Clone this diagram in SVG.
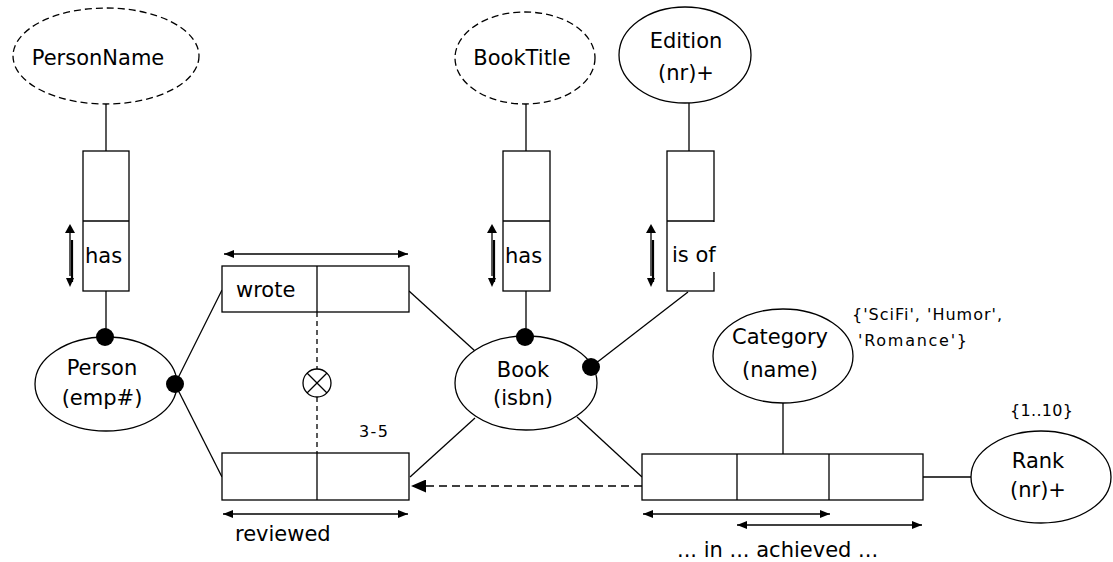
<svg xmlns="http://www.w3.org/2000/svg" width="1113" height="562" viewBox="0 0 1113 562">
<defs>
<style>
.n{fill:#fff;stroke:#000;stroke-width:1.3}
.dash{stroke-dasharray:7 4}
.l{fill:none;stroke:#000;stroke-width:1.3}
.dl{fill:none;stroke:#000;stroke-width:1.3;stroke-dasharray:5 4}
.da{fill:none;stroke:#000;stroke-width:1.3;stroke-dasharray:8 5}
.dot{fill:#000}
text{font-family:"DejaVu Sans","Liberation Sans",sans-serif;font-size:21px;fill:#000}
.m{text-anchor:middle}
.s{font-size:16px}
.w{fill:none;stroke:#000;stroke-width:1.5;marker-start:url(#ah);marker-end:url(#ah)}
</style>
<marker id="ah" viewBox="0 0 10 8" refX="10" refY="4" markerWidth="10" markerHeight="8" markerUnits="userSpaceOnUse" orient="auto-start-reverse">
<path d="M0,0 L10,4 L0,8 Z" fill="#000"/>
</marker>
<marker id="big" viewBox="0 0 15 13" refX="15" refY="6.5" markerWidth="15" markerHeight="13" markerUnits="userSpaceOnUse" orient="auto">
<path d="M0,0 L15,6.5 L0,13 Z" fill="#000"/>
</marker>
<g id="ubar">
<path d="M0,0 L-5,9 L5,9 Z" fill="#000"/>
<line x1="0" y1="8" x2="0" y2="52" stroke="#000" stroke-width="1.3"/>
<line x1="2" y1="16" x2="2" y2="58" stroke="#000" stroke-width="2.2"/>
<path d="M-4,54 L4,54 L0,63 Z" fill="#000"/>
</g>
</defs>
<rect width="1113" height="562" fill="#fff"/>

<g id="connectors">
<line class="l" x1="106" y1="104" x2="106" y2="151"/>
<line class="l" x1="106" y1="291" x2="106" y2="337"/>
<line class="l" x1="526" y1="104" x2="526" y2="151"/>
<line class="l" x1="526" y1="291" x2="526" y2="337"/>
<line class="l" x1="689" y1="103" x2="689" y2="151"/>
<line class="l" x1="688" y1="292" x2="591" y2="367"/>
<line class="l" x1="175" y1="384" x2="222" y2="290"/>
<line class="l" x1="175" y1="384" x2="222" y2="477"/>
<line class="l" x1="409" y1="291" x2="475" y2="351"/>
<line class="l" x1="475" y1="418" x2="410" y2="477"/>
<line class="l" x1="577" y1="417" x2="642" y2="477"/>
<line class="l" x1="783" y1="403" x2="783" y2="454"/>
<line class="l" x1="923" y1="477" x2="971" y2="477"/>
<line class="dl" x1="317" y1="312" x2="317" y2="369"/>
<line class="dl" x1="317" y1="397" x2="317" y2="453"/>
<line class="da" x1="642" y1="486" x2="411" y2="486" marker-end="url(#big)"/>
</g>

<g id="PersonName">
<ellipse class="n dash" cx="106" cy="56" rx="93" ry="48"/>
<text class="m" x="98" y="65">PersonName</text>
</g>
<g id="BookTitle">
<ellipse class="n dash" cx="525" cy="58" rx="70" ry="46"/>
<text class="m" x="522" y="65">BookTitle</text>
</g>
<g id="Edition">
<ellipse class="n" cx="685" cy="55" rx="66" ry="48"/>
<text class="m" x="686" y="48">Edition</text>
<text class="m" x="686" y="80">(nr)+</text>
</g>

<g id="fact-person-has">
<rect class="n" x="83" y="151" width="46" height="140"/>
<line class="l" x1="83" y1="221" x2="129" y2="221"/>
<text x="85" y="263">has</text>
<use href="#ubar" x="70" y="224"/>
</g>
<g id="fact-book-has">
<rect class="n" x="503" y="151" width="47" height="140"/>
<line class="l" x1="503" y1="221" x2="550" y2="221"/>
<text x="505" y="263">has</text>
<use href="#ubar" x="492" y="224"/>
</g>
<g id="fact-edition">
<rect class="n" x="667" y="151" width="47" height="140"/>
<line class="l" x1="667" y1="221" x2="714" y2="221"/>
<rect x="712" y="222" width="5" height="50" fill="#fff"/>
<text x="672" y="262">is of</text>
<use href="#ubar" x="651" y="224"/>
</g>

<g id="Person">
<ellipse class="n" cx="106" cy="384" rx="71" ry="47"/>
<text class="m" x="102" y="375">Person</text>
<text class="m" x="102" y="405">(emp#)</text>
</g>
<g id="Book">
<ellipse class="n" cx="526" cy="383" rx="71" ry="47"/>
<text class="m" x="523" y="377">Book</text>
<text class="m" x="523" y="405">(isbn)</text>
</g>
<g id="Category">
<ellipse class="n" cx="783" cy="356" rx="70" ry="47"/>
<text class="m" x="780" y="344">Category</text>
<text class="m" x="780" y="377">(name)</text>
<text class="s" x="852" y="320" textLength="150" lengthAdjust="spacing">{'SciFi', 'Humor',</text>
<text class="s" x="858" y="346" textLength="109" lengthAdjust="spacing">'Romance'}</text>
</g>
<g id="Rank">
<ellipse class="n" cx="1041" cy="477" rx="70" ry="46"/>
<text class="m" x="1038" y="468">Rank</text>
<text class="m" x="1038" y="497">(nr)+</text>
<text class="s" x="1010" y="416" textLength="63" lengthAdjust="spacing">{1..10}</text>
</g>

<g id="fact-wrote">
<rect class="n" x="222" y="266" width="187" height="46"/>
<line class="l" x1="317" y1="266" x2="317" y2="312"/>
<text x="236" y="297">wrote</text>
<line class="w" x1="224" y1="254" x2="408" y2="254"/>
</g>
<g id="fact-reviewed">
<rect class="n" x="222" y="453" width="187" height="47"/>
<line class="l" x1="317" y1="453" x2="317" y2="500"/>
<line class="w" x1="223" y1="514" x2="408" y2="514"/>
<text x="235" y="541">reviewed</text>
<text class="s" x="359" y="437" textLength="29" lengthAdjust="spacing">3-5</text>
</g>
<g id="exclusion">
<circle class="n" cx="317" cy="383" r="14"/>
<line class="l" x1="307" y1="373" x2="327" y2="393"/>
<line class="l" x1="327" y1="373" x2="307" y2="393"/>
</g>
<g id="fact-achieved">
<rect class="n" x="642" y="454" width="281" height="46"/>
<line class="l" x1="737" y1="454" x2="737" y2="500"/>
<line class="l" x1="829" y1="454" x2="829" y2="500"/>
<line class="w" x1="643" y1="514" x2="830" y2="514"/>
<line class="w" x1="737" y1="525" x2="922" y2="525"/>
<text x="677" y="557">... in ... achieved ...</text>
</g>

<g id="dots">
<circle class="dot" cx="105" cy="337" r="9"/>
<circle class="dot" cx="175" cy="384" r="9"/>
<circle class="dot" cx="525" cy="337" r="9"/>
<circle class="dot" cx="591" cy="367" r="9"/>
</g>
</svg>
